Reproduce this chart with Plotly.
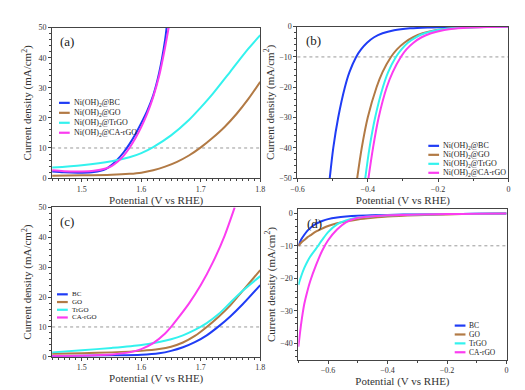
import plotly.graph_objects as go

# ---------------- data ----------------
names_ni = ["Ni(OH)<sub>2</sub>@BC", "Ni(OH)<sub>2</sub>@GO",
            "Ni(OH)<sub>2</sub>@TrGO", "Ni(OH)<sub>2</sub>@CA-rGO"]
names_bare = ["BC", "GO", "TrGO", "CA-rGO"]
colors = ["#1f3cf5", "#b27a45", "#33f2ee", "#fb3cf0"]
ref_oer = 10
ref_her = -10

# (a) OER, Ni(OH)2 composites
a_bc_x = [1.45, 1.47, 1.50, 1.52, 1.54, 1.55, 1.56, 1.57, 1.58, 1.59, 1.60, 1.61, 1.62, 1.63, 1.64, 1.6425]
a_bc_y = [2.2, 1.9, 1.8, 2.0, 3.0, 4.3, 6.2, 8.5, 11.3, 14.6, 18.3, 22.4, 27.5, 35.0, 46.0, 50.0]
a_ca_x = [1.45, 1.47, 1.50, 1.52, 1.54, 1.55, 1.56, 1.57, 1.58, 1.59, 1.60, 1.61, 1.62, 1.63, 1.64, 1.646]
a_ca_y = [2.6, 2.3, 2.2, 2.4, 3.2, 4.0, 5.4, 7.4, 10.0, 13.2, 17.0, 21.5, 27.0, 34.0, 43.5, 50.0]
a_tr_x = [1.45, 1.50, 1.55, 1.58, 1.60, 1.62, 1.65, 1.68, 1.70, 1.72, 1.75, 1.78, 1.80]
a_tr_y = [3.5, 4.3, 5.6, 6.9, 8.3, 10.3, 14.2, 19.3, 23.5, 28.0, 35.5, 43.0, 47.5]
a_go_x = [1.45, 1.50, 1.55, 1.58, 1.60, 1.62, 1.64, 1.66, 1.68, 1.70, 1.72, 1.74, 1.76, 1.78, 1.80]
a_go_y = [0.8, 0.9, 1.1, 1.4, 1.8, 2.6, 3.8, 5.4, 7.5, 10.2, 13.4, 17.0, 21.3, 26.3, 32.0]

# (b) HER, Ni(OH)2 composites
b_y = [-50, -40, -30, -20, -15, -10, -7.5, -5.3, -3.5, -2.2, -1.2, -0.55, -0.25, -0.08, 0]
b_bc_x = [-0.508, -0.498, -0.484, -0.465, -0.452, -0.433, -0.419, -0.402, -0.382, -0.358, -0.325, -0.280, -0.230, -0.150, 0.0]
b_go_x = [-0.430, -0.417, -0.400, -0.375, -0.358, -0.334, -0.317, -0.296, -0.271, -0.244, -0.208, -0.160, -0.120, -0.070, 0.0]
b_tr_x = [-0.407, -0.395, -0.379, -0.357, -0.342, -0.320, -0.304, -0.286, -0.263, -0.238, -0.205, -0.160, -0.120, -0.070, 0.0]
b_ca_x = [-0.398, -0.385, -0.369, -0.346, -0.329, -0.306, -0.290, -0.270, -0.247, -0.220, -0.186, -0.145, -0.110, -0.060, 0.0]

# (c) OER, bare supports
c_x = [1.45, 1.50, 1.55, 1.60, 1.63, 1.65, 1.67, 1.69, 1.71, 1.73, 1.75, 1.77, 1.80]
c_bc_y = [0.3, 0.4, 0.5, 0.7, 1.2, 2.0, 3.2, 4.9, 7.2, 10.2, 13.6, 17.5, 24.0]
c_go_y = [1.0, 1.2, 1.5, 2.0, 2.6, 3.4, 4.8, 7.0, 10.0, 13.4, 17.3, 22.0, 29.0]
c_tr_y = [1.5, 2.2, 3.0, 4.0, 5.0, 5.9, 7.2, 9.0, 11.3, 14.3, 18.2, 22.0, 27.0]
c_ca_x = [1.45, 1.50, 1.55, 1.58, 1.60, 1.62, 1.64, 1.65, 1.66, 1.68, 1.70, 1.72, 1.74, 1.757]
c_ca_y = [0.3, 0.4, 0.8, 1.5, 2.6, 4.6, 7.8, 10.0, 12.5, 17.8, 24.0, 31.5, 40.5, 50.0]

# (d) HER, bare supports
d_x = [-0.70, -0.69, -0.68, -0.67, -0.66, -0.64, -0.62, -0.60, -0.57, -0.54, -0.50, -0.45, -0.40, -0.30, -0.20, -0.10, 0.0]
d_bc_y = [-10.0, -8.0, -6.6, -5.4, -4.5, -3.2, -2.4, -1.8, -1.3, -1.0, -0.75, -0.6, -0.5, -0.35, -0.25, -0.15, -0.1]
d_go_y = [-10.0, -9.0, -8.2, -7.4, -6.8, -5.6, -4.7, -3.9, -3.1, -2.5, -1.9, -1.4, -1.0, -0.6, -0.35, -0.2, -0.1]
d_tr_y = [-22.0, -19.2, -16.8, -14.9, -13.3, -10.8, -8.2, -5.8, -3.4, -2.2, -1.3, -0.9, -0.6, -0.4, -0.25, -0.15, -0.1]
d_ca_y = [-41.0, -33.5, -27.8, -24.0, -20.8, -15.8, -11.5, -8.3, -5.0, -2.8, -1.4, -0.9, -0.6, -0.4, -0.25, -0.15, -0.1]

# ---------------- figure ----------------
W, H = 525, 390
FONT = "Liberation Serif"
fig = go.Figure()

panels = [
    dict(xa="x", ya="y",
         series=[(a_bc_x, a_bc_y), (a_go_x, a_go_y), (a_tr_x, a_tr_y), (a_ca_x, a_ca_y)],
         names=names_ni, leg=(45, 93, 10.2, 8)),
    dict(xa="x2", ya="y2",
         series=[(b_bc_x, b_y), (b_go_x, b_y), (b_tr_x, b_y), (b_ca_x, b_y)],
         names=names_ni, leg=(423, 137, 9.2, 8)),
    dict(xa="x3", ya="y3",
         series=[(c_x, c_bc_y), (c_x, c_go_y), (c_x, c_tr_y), (c_ca_x, c_ca_y)],
         names=names_bare, leg=(43, 289, 7.9, 7)),
    dict(xa="x4", ya="y4",
         series=[(d_x, d_bc_y), (d_x, d_go_y), (d_x, d_tr_y), (d_x, d_ca_y)],
         names=names_bare, leg=(450, 321, 9.1, 7.5)),
]

for p in panels:
    lx, ly, step, fsz = p["leg"]
    for i, ((xs, ys), nm, col) in enumerate(zip(p["series"], p["names"], colors)):
        fig.add_trace(go.Scatter(x=xs, y=ys, mode="lines", name=nm, showlegend=False,
                                 line=dict(color=col, width=2, shape="spline", smoothing=0.8),
                                 xaxis=p["xa"], yaxis=p["ya"]))
        yc = 1 - (ly + i * step) / H
        fig.add_shape(type="line", xref="paper", yref="paper",
                      x0=lx / W, x1=(lx + 11) / W, y0=yc, y1=yc,
                      line=dict(color=col, width=2.2))
        fig.add_annotation(text=nm, xref="paper", yref="paper", x=(lx + 13) / W, y=yc,
                           xanchor="left", yanchor="middle", showarrow=False,
                           font=dict(family=FONT, size=fsz, color="#222"))

axis_common = dict(showline=True, linecolor="#444", linewidth=1, mirror=True,
                   ticks="outside", ticklen=3, tickcolor="#444", showgrid=False,
                   zeroline=False, tickfont=dict(family=FONT, size=8, color="#333"))
title_font = dict(family=FONT, size=11, color="#333")
ytitle = "Current density (mA/cm<sup>2</sup>)"
xtitle = "Potential (V vs RHE)"


def px_x(a, b):
    return [a / W, b / W]


def px_y(top, bot):
    return [1 - bot / H, 1 - top / H]


minor_c = dict(ticks="outside", ticklen=2, tickcolor="#444")
oer_x = dict(range=[1.45, 1.8], tickvals=[1.5, 1.6, 1.7, 1.8], minor=dict(dtick=0.01, **minor_c))
oer_y = dict(range=[0, 50], tickvals=[0, 10, 20, 30, 40, 50], minor=dict(dtick=2, **minor_c))
her_ticks = dict(tickvals=[-0.6, -0.4, -0.2, 0],
                 ticktext=["\u22120.6", "\u22120.4", "\u22120.2", "0"],
                 minor=dict(dtick=0.1, **minor_c))

fig.update_layout(
    width=W, height=H, margin=dict(l=0, r=0, t=0, b=0),
    font=dict(family=FONT),
    paper_bgcolor="white", plot_bgcolor="white", showlegend=False,
    xaxis=dict(**axis_common, **oer_x, domain=px_x(38, 251), anchor="y",
               title=dict(text=xtitle, font=title_font, standoff=2)),
    yaxis=dict(**axis_common, **oer_y, domain=px_y(16, 170), anchor="x",
               title=dict(text=ytitle, font=title_font, standoff=4)),
    xaxis2=dict(**axis_common, range=[-0.6, 0], **her_ticks,
                domain=px_x(289, 505), anchor="y2",
                title=dict(text=xtitle, font=title_font, standoff=2)),
    yaxis2=dict(**axis_common, range=[-50, 0], tickvals=[0, -10, -20, -30, -40, -50],
                minor=dict(dtick=2, **minor_c),
                domain=px_y(15, 170), anchor="x2",
                title=dict(text=ytitle, font=title_font, standoff=2)),
    xaxis3=dict(**axis_common, **oer_x, domain=px_x(38, 251), anchor="y3",
                title=dict(text=xtitle, font=title_font, standoff=2)),
    yaxis3=dict(**axis_common, **oer_y, domain=px_y(200, 353), anchor="x3",
                title=dict(text=ytitle, font=title_font, standoff=4)),
    xaxis4=dict(**axis_common, range=[-0.7, 0], **her_ticks,
                domain=px_x(290, 503), anchor="y4",
                title=dict(text=xtitle, font=title_font, standoff=2)),
    yaxis4=dict(**axis_common, range=[-45, 1.2], tickvals=[0, -10, -20, -30, -40],
                minor=dict(dtick=2, **minor_c),
                domain=px_y(202, 356), anchor="x4",
                title=dict(text=ytitle, font=title_font, standoff=2)),
)

# reference lines
for xr, yr, val in [("x", "y", ref_oer), ("x2", "y2", ref_her), ("x3", "y3", ref_oer), ("x4", "y4", ref_her)]:
    fig.add_shape(type="line", xref=xr + " domain", yref=yr, x0=0, x1=1, y0=val, y1=val,
                  line=dict(color="#999", width=1, dash="dot"), layer="below")

# panel labels
for xr, yr, lab in [("x", "y", "(a)"), ("x2", "y2", "(b)"), ("x3", "y3", "(c)"), ("x4", "y4", "(d)")]:
    fig.add_annotation(text=lab, xref=xr + " domain", yref=yr + " domain", x=0.03, y=0.97,
                       xanchor="left", yanchor="top", showarrow=False,
                       font=dict(family=FONT, size=13, color="#222"))

fig.write_html("out.html")
